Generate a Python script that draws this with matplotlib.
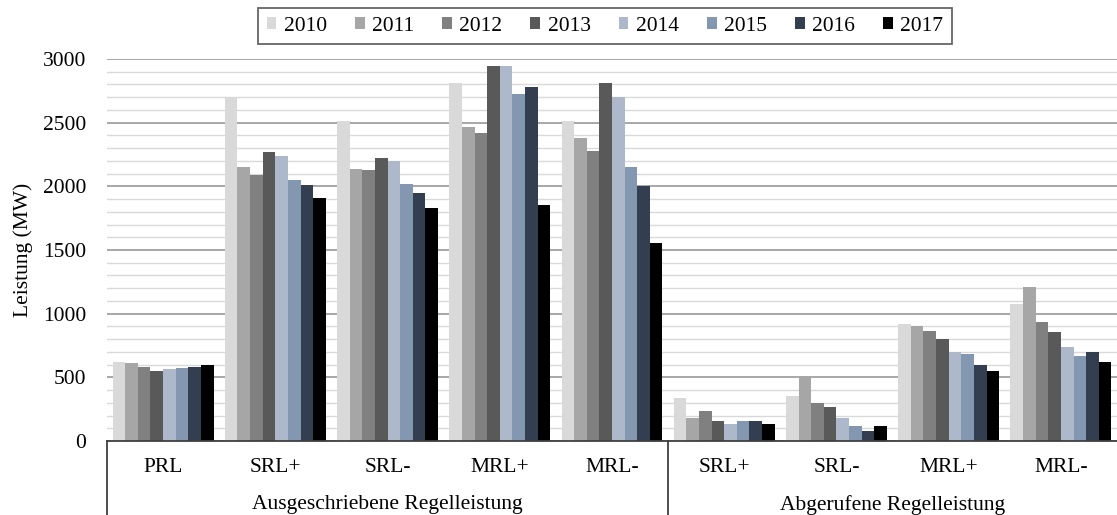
import matplotlib
matplotlib.use("Agg")
import matplotlib.pyplot as plt
import numpy as np

plt.rcParams['font.family'] = ['Liberation Serif', 'DejaVu Serif']

years = ['2010', '2011', '2012', '2013', '2014', '2015', '2016', '2017']
categories = ['PRL', 'SRL+', 'SRL-', 'MRL+', 'MRL-', 'SRL+', 'SRL-', 'MRL+', 'MRL-']
groups = ['Ausgeschriebene Regelleistung', 'Abgerufene Regelleistung']
group_sizes = [5, 4]

# Werte je Jahr, in der Reihenfolge der Kategorien
values = {
    '2010': [620, 2700, 2515, 2815, 2510, 340, 355, 915, 1075],
    '2011': [610, 2150, 2135, 2465, 2380, 180, 510, 905, 1210],
    '2012': [580, 2090, 2130, 2420, 2280, 235, 300, 860, 935],
    '2013': [550, 2270, 2220, 2945, 2815, 160, 265, 800, 855],
    '2014': [565, 2240, 2200, 2945, 2700, 130, 180, 700, 735],
    '2015': [570, 2050, 2020, 2725, 2150, 155, 120, 685, 665],
    '2016': [580, 2010, 1945, 2780, 2000, 155, 75, 595, 700],
    '2017': [600, 1905, 1830, 1850, 1555, 135, 115, 550, 620],
}
colors = ['#d9d9d9', '#a6a6a6', '#808080', '#595959',
          '#adb9ca', '#8497b0', '#333f50', '#000000']
fs = 15.5

fig = plt.figure(figsize=(11.17, 5.15), dpi=100)
ax = fig.add_axes([107/1117, 74/515, 1010/1117, 382/515])

x = np.arange(len(categories))
w = 0.9 / len(years)
for i, yr in enumerate(years):
    ax.bar(x + (i - 3.5) * w, values[yr], w, color=colors[i], label=yr, zorder=3)

ax.set_xlim(-0.5, len(categories) - 0.5)
ax.set_ylim(0, 3000)
ax.set_yticks(np.arange(0, 3001, 500))
ax.set_yticks(np.arange(0, 3001, 100), minor=True)
ax.grid(which='minor', axis='y', color='#d9d9d9', lw=1.0, zorder=0)
ax.grid(which='major', axis='y', color='#a0a0a0', lw=1.3, zorder=1)
ax.tick_params(axis='y', which='major', length=0, labelsize=fs, pad=15)
ax.tick_params(axis='y', which='minor', length=0)
ax.set_xticks([])
for s in ['top', 'right', 'left', 'bottom']:
    ax.spines[s].set_visible(False)
ax.set_ylabel('Leistung (MW)', fontsize=fs, labelpad=7)

tr = ax.get_xaxis_transform()
bottom = -74/382
ax.plot([-0.5, len(categories) - 0.5], [0, 0], color='#404040', lw=1.3,
        transform=tr, clip_on=False, zorder=5)
edges = np.concatenate([[0], np.cumsum(group_sizes)]) - 0.5
for e in edges[:-1]:
    ax.plot([e, e], [0, bottom], color='#404040', lw=1.3,
            transform=tr, clip_on=False)

for xi, c in zip(x, categories):
    ax.text(xi, -27/382, c, transform=tr, ha='center', va='center', fontsize=fs)
for g, a, b in zip(groups, edges[:-1], edges[1:]):
    ax.text((a + b) / 2, -64/382, g, transform=tr, ha='center', va='center',
            fontsize=fs)

leg = ax.legend(loc='upper center', bbox_to_anchor=(605/1117, 1 - 8/515),
                bbox_transform=fig.transFigure, ncol=8, fontsize=fs,
                frameon=True, fancybox=False, edgecolor='#404040',
                handlelength=0.45, handleheight=0.45, handletextpad=0.35,
                columnspacing=1.3, borderpad=0.4, borderaxespad=0)
leg.get_frame().set_linewidth(1.3)

fig.savefig('out.png', dpi=100)
